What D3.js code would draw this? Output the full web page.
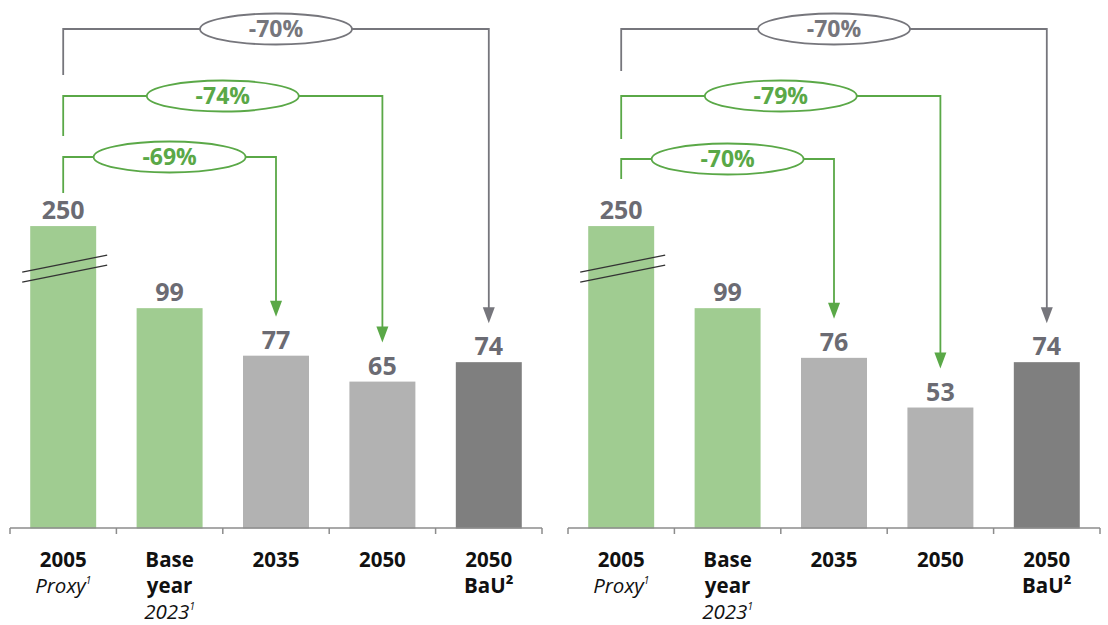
<!DOCTYPE html>
<html><head><meta charset="utf-8">
<script src="https://cdn.jsdelivr.net/npm/d3@7"></script>
<style>body{margin:0;background:#fff} svg{display:block;font-family:"Open Sans",sans-serif}</style>
</head><body><svg id="c" width="1108" height="625"></svg>
<script>
// ---- data ----
const categories = ["2005", "Base year", "2035", "2050", "2050 BaU"];
const valuesLeft = [250, 99, 77, 65, 74];
const valuesRight = [250, 99, 76, 53, 74];
const reductionLabelsLeft = ["-69%", "-74%", "-70%"];
const reductionLabelsRight = ["-70%", "-79%", "-70%"];
const reductionTargets = ["2035", "2050", "2050 BaU"];
const reductionSource = "2005";
const brokenAxisCap = 137; // displayed height of the broken (axis-break) bar
const categoryLabelLines = [
  [{text: "2005", style: "bold"}, {text: "Proxy", style: "italic", sup: "1"}],
  [{text: "Base", style: "bold"}, {text: "year", style: "bold"}, {text: "2023", style: "italic", sup: "1"}],
  [{text: "2035", style: "bold"}],
  [{text: "2050", style: "bold"}],
  [{text: "2050", style: "bold"}, {text: "BaU²", style: "bold"}]
];

// ---- style ----
const barColors = ["#a0cc91", "#a0cc91", "#b2b2b2", "#b2b2b2", "#7f7f7f"];
const green = "#5aa847", grey = "#76767c", valueGrey = "#6b6b73";
const bracketColors = [green, green, grey];

const svg = d3.select("#c");

const panels = [
  {x0: 10, values: valuesLeft, labels: reductionLabelsLeft, levels: [157, 96, 29], stubs: [193, 136, 75]},
  {x0: 568, values: valuesRight, labels: reductionLabelsRight, levels: [159, 96, 29], stubs: [179, 139, 71]}
];
const panelWidth = 532;
const baseline = 528.5;

panels.forEach(p => {
  const g = svg.append("g");
  const x = d3.scaleBand().domain(categories).range([p.x0, p.x0 + panelWidth])
    .paddingInner(0.38).paddingOuter(0.19);
  const y = d3.scaleLinear().domain([0, 100]).range([522, 306]);
  const bw = x.bandwidth();
  const cx = c => x(c) + bw / 2;
  const shown = v => Math.min(v, brokenAxisCap);

  // bars
  g.selectAll("rect.bar").data(categories).join("rect")
    .attr("x", c => x(c)).attr("width", bw)
    .attr("y", (c, i) => y(shown(p.values[i])))
    .attr("height", (c, i) => baseline - y(shown(p.values[i])))
    .attr("fill", (c, i) => barColors[i]);

  // axis
  g.append("line").attr("x1", p.x0).attr("x2", p.x0 + panelWidth)
    .attr("y1", 528).attr("y2", 528).attr("stroke", "#8c8c8c").attr("stroke-width", 1.5);
  const step = x.step();
  const tickXs = d3.range(categories.length + 1).map(i => x(categories[0]) - step * 0.19 + i * step);
  g.selectAll("line.tick").data(tickXs).join("line")
    .attr("x1", d => d).attr("x2", d => d).attr("y1", 528).attr("y2", 534)
    .attr("stroke", "#8c8c8c").attr("stroke-width", 1.5);

  // axis-break lines on broken bars
  categories.forEach((c, i) => {
    if (p.values[i] > brokenAxisCap) {
      const top = y(brokenAxisCap);
      [0, 10].forEach(off => {
        g.append("line").attr("x1", x(c) - 8).attr("x2", x(c) + bw + 11)
          .attr("y1", top + 46 + off).attr("y2", top + 29 + off)
          .attr("stroke", "#333").attr("stroke-width", 1.4);
      });
    }
  });

  // value labels
  g.selectAll("text.val").data(categories).join("text")
    .attr("x", c => cx(c)).attr("y", (c, i) => y(shown(p.values[i])) - 7)
    .attr("text-anchor", "middle").attr("font-size", 25).attr("font-weight", 700)
    .attr("fill", valueGrey).text((c, i) => p.values[i]);

  // category labels (one text element per category, one tspan per line)
  categories.forEach((c, i) => {
    const t = g.append("text").attr("x", cx(c)).attr("y", 567)
      .attr("text-anchor", "middle").attr("font-size", 20.5).attr("fill", "#111");
    categoryLabelLines[i].forEach((ln, j) => {
      const s = t.append("tspan").attr("x", cx(c)).attr("y", 567 + j * 26)
        .attr("font-weight", ln.style === "bold" ? 700 : 400)
        .attr("font-style", ln.style === "italic" ? "italic" : "normal")
        .text(ln.text);
      if (ln.sup) {
        t.append("tspan").attr("font-size", 10).attr("dy", -9)
          .attr("font-style", "italic").text(ln.sup);
      }
    });
  });

  // reduction brackets
  reductionTargets.forEach((tgt, k) => {
    const col = bracketColors[k];
    const xs = cx(reductionSource), xt = cx(tgt);
    const lvl = p.levels[k];
    const ti = categories.indexOf(tgt);
    const tip = y(p.values[ti]) - 39;
    g.append("path").attr("d", `M${xs},${p.stubs[k]}V${lvl}H${xt}V${tip - 14}`)
      .attr("fill", "none").attr("stroke", col).attr("stroke-width", 1.8);
    g.append("path").attr("d", `M${xt - 6},${tip - 16}L${xt + 6},${tip - 16}L${xt},${tip}Z`)
      .attr("fill", col);
    const mx = (xs + xt) / 2;
    g.append("ellipse").attr("cx", mx).attr("cy", lvl).attr("rx", 76).attr("ry", 15.5)
      .attr("fill", "#fff").attr("stroke", col).attr("stroke-width", 1.8);
    g.append("text").attr("x", mx).attr("y", lvl + 8).attr("text-anchor", "middle")
      .attr("font-size", 23).attr("font-weight", 700).attr("fill", col).text(p.labels[k]);
  });
});
</script></body></html>
